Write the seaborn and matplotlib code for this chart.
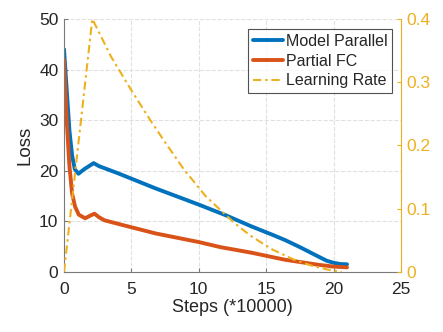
import numpy as np
import pandas as pd
import matplotlib
matplotlib.use('Agg')
import matplotlib.pyplot as plt
import seaborn as sns

# loss curves (steps in units of 10000)
mp_steps = [0, 0.2, 0.4, 0.6, 0.8, 1.07, 1.5, 2.2, 2.6, 4, 6.8, 10, 12, 13.9, 15.5, 16.4, 17.5, 18.9, 19.5, 20.0, 20.5, 21]
mp_loss = [44, 36, 28, 23, 20.3, 19.4, 20.3, 21.5, 20.9, 19.5, 16.5, 13.3, 11.2, 9.0, 7.3, 6.3, 4.9, 3.0, 2.2, 1.8, 1.55, 1.5]

pfc_steps = [0, 0.2, 0.4, 0.6, 0.82, 1.1, 1.57, 2.0, 2.26, 2.6, 3, 4.3, 6.8, 10, 11.6, 13.9, 16.4, 18.9, 20, 21]
pfc_loss = [42, 30, 21, 15.5, 12.9, 11.3, 10.6, 11.2, 11.5, 10.8, 10.2, 9.3, 7.6, 5.9, 4.9, 3.8, 2.4, 1.4, 1.05, 0.9]

lr_steps = [0, 2.1, 3.5, 5, 6.4, 7.5, 8.9, 10.5, 12.1, 13, 14, 15.5, 17.1, 18.5, 19.5, 20, 20.6]
lr_vals = [0, 0.4, 0.34, 0.287, 0.24, 0.205, 0.162, 0.12, 0.088, 0.071, 0.055, 0.035, 0.019, 0.009, 0.004, 0.002, 0]

c_blue = '#0072BD'
c_red = '#D95319'
c_yel = '#EDB120'

sns.set_style('ticks')
plt.rcParams['font.family'] = ['Liberation Sans', 'DejaVu Sans']

fig = plt.figure(figsize=(4.43, 3.32), dpi=100)
ax = fig.add_axes([0.1445, 0.181, 0.7605, 0.762])
ax2 = ax.twinx()

sns.lineplot(x=mp_steps, y=mp_loss, ax=ax, color=c_blue, lw=2.8, label='Model Parallel', legend=False)
sns.lineplot(x=pfc_steps, y=pfc_loss, ax=ax, color=c_red, lw=2.8, label='Partial FC', legend=False)
sns.lineplot(x=lr_steps, y=lr_vals, ax=ax2, color=c_yel, lw=1.5, label='Learning Rate', legend=False,
             dashes=False)
ax2.lines[0].set_dashes([4, 1.8, 1.2, 1.8])

ax.set_xlim(0, 25)
ax.set_ylim(0, 50)
ax2.set_ylim(0, 0.4)
ax.set_xticks([0, 5, 10, 15, 20, 25])
ax.set_yticks([0, 10, 20, 30, 40, 50])
ax2.set_yticks([0, 0.1, 0.2, 0.3, 0.4])
ax2.set_yticklabels(['0', '0.1', '0.2', '0.3', '0.4'])

ax.grid(True, ls='--', color='#e0e0e0', lw=0.8)
ax.set_axisbelow(True)
ax.set_xlabel('Steps (*10000)', fontsize=13, color='#262626', labelpad=2)
ax.set_ylabel('Loss', fontsize=13.5, color='#262626', labelpad=4)

for a in (ax, ax2):
    a.spines['top'].set_visible(False)
ax.spines['right'].set_visible(False)
ax2.spines['left'].set_visible(False)
ax2.spines['bottom'].set_visible(False)
ax.spines['left'].set_color('#7a7a7a')
ax.spines['bottom'].set_color('#7a7a7a')
ax2.spines['right'].set_color(c_yel)

ax.tick_params(direction='in', labelsize=12.5, colors='#262626', length=3)
ax.tick_params(axis='x', pad=7)
ax.tick_params(axis='y', pad=4)
ax.tick_params(axis='both', color='#7a7a7a')
ax2.tick_params(direction='in', labelsize=12.5, colors=c_yel, length=3, pad=4)

h1, l1 = ax.get_legend_handles_labels()
h2, l2 = ax2.get_legend_handles_labels()
leg = ax2.legend(h1 + h2, l1 + l2, loc='upper right', bbox_to_anchor=(0.975, 0.96),
                 fontsize=11.5, frameon=True, fancybox=False, handlelength=1.9,
                 handletextpad=0.2, borderpad=0.3, labelspacing=0.3, borderaxespad=0)
leg.get_frame().set_edgecolor('#262626')
leg.get_frame().set_linewidth(0.8)

fig.savefig('out.png', dpi=100)
